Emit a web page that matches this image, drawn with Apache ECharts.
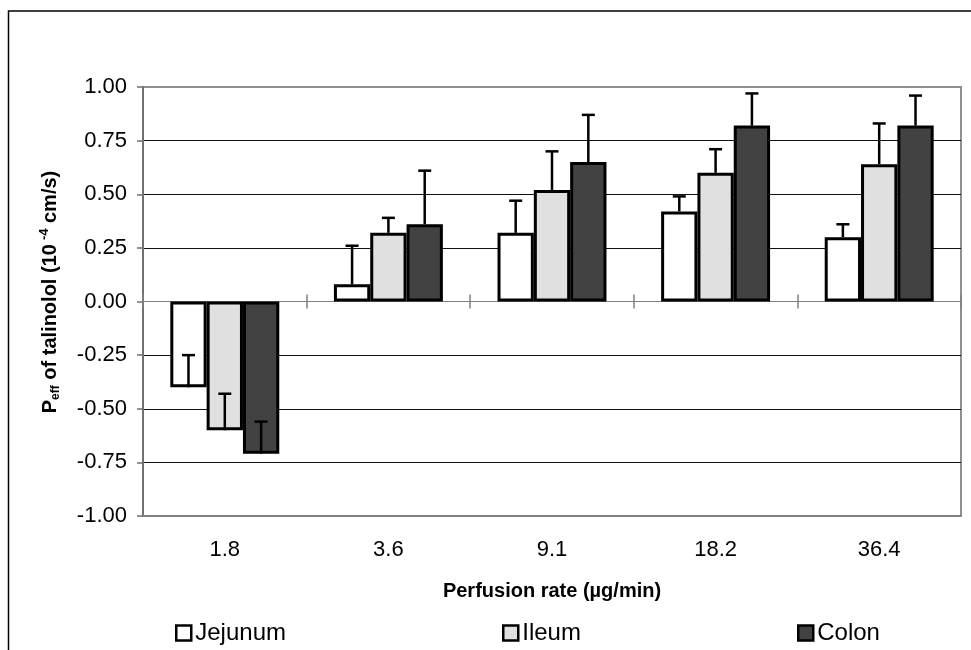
<!DOCTYPE html>
<html>
<head>
<meta charset="utf-8">
<title>Talinolol permeability</title>
<script src="https://cdn.jsdelivr.net/npm/echarts@6/dist/echarts.min.js"></script>
<style>
  html, body { margin: 0; padding: 0; background: #fff; }
  #chart { width: 971px; height: 650px; }
</style>
</head>
<body>
<div id="chart"></div>
<script>
// Perfusion rates (µg/min)
const categories = ['1.8', '3.6', '9.1', '18.2', '36.4'];

// Mean Peff (10^-4 cm/s) per intestinal segment
const jejunum = [-0.40, 0.08, 0.32, 0.42, 0.30];
const ileum   = [-0.60, 0.32, 0.52, 0.60, 0.64];
const colon   = [-0.71, 0.36, 0.65, 0.82, 0.82];

// Standard deviations (drawn upward from the mean)
const jejunumErr = [0.15, 0.18, 0.15, 0.07, 0.06];
const ileumErr   = [0.17, 0.07, 0.18, 0.11, 0.19];
const colonErr   = [0.15, 0.25, 0.22, 0.15, 0.14];

// y axis ticks
const yTicks = [-1.00, -0.75, -0.50, -0.25, 0.00, 0.25, 0.50, 0.75, 1.00];

const FONT = "'Liberation Sans', Arial, sans-serif";
const GAP = 0.334;

function errData(vals, errs) {
  return vals.map((v, i) => [i, v, v + errs[i]]);
}

function errRender(slot) {
  return function (params, api) {
    const x = api.value(0);
    const p0 = api.coord([x, api.value(1)]);
    const p1 = api.coord([x, api.value(2)]);
    const band = api.size([1, 0])[0];
    const barW = band * (1 - GAP) / 3;
    const cx = p0[0] + (slot - 1) * barW;
    const half = 6.5;
    return {
      type: 'group',
      children: [
        { type: 'line', shape: { x1: cx, y1: p0[1], x2: cx, y2: p1[1] },
          style: { stroke: '#000', lineWidth: 2.5 } },
        { type: 'line', shape: { x1: cx - half, y1: p1[1], x2: cx + half, y2: p1[1] },
          style: { stroke: '#000', lineWidth: 2.5 } }
      ]
    };
  };
}

const gridColors = yTicks.map(v => (v === -1 || v === 0 || v === 1) ? 'rgba(0,0,0,0)' : '#111');

const chart = echarts.init(document.getElementById('chart'), null, { renderer: 'canvas' });

const barStyle = (fill) => ({ color: fill, borderColor: '#000', borderWidth: 3 });

const legendBase = {
  orient: 'horizontal',
  padding: 0,
  itemWidth: 15,
  itemHeight: 15,
  icon: 'rect',
  selectedMode: false,
  itemGap: 6,
  itemStyle: { borderColor: '#000', borderWidth: 2.5 },
  textStyle: { fontFamily: FONT, fontSize: 24, color: '#000', padding: [0, 0, 0, -1] },
  top: 621
};

chart.setOption({
  animation: false,
  backgroundColor: '#fff',
  textStyle: { fontFamily: FONT },
  grid: { left: 143, right: 10, top: 87, bottom: 134, containLabel: false, outerBoundsMode: 'none' },
  legend: [
    Object.assign({}, legendBase, { data: ['Jejunum'], left: 175 }),
    Object.assign({}, legendBase, { data: ['Ileum'], left: 502 }),
    Object.assign({}, legendBase, { data: ['Colon'], left: 797 })
  ],
  xAxis: [
    {
      type: 'category',
      data: categories,
      position: 'bottom',
      axisLine: { onZero: false, lineStyle: { color: '#808080', width: 2 } },
      axisTick: { show: false },
      axisLabel: { fontFamily: FONT, fontSize: 22, color: '#000', margin: 23 },
      splitLine: { show: false },
      name: 'Perfusion rate (µg/min)',
      nameLocation: 'middle',
      nameGap: 65,
      nameTextStyle: { fontFamily: FONT, fontSize: 20, fontWeight: 'bold', color: '#000' }
    },
    {
      type: 'category',
      data: categories,
      position: 'bottom',
      axisLine: { onZero: true, onZeroAxisIndex: 0, lineStyle: { color: '#808080', width: 1 } },
      axisTick: { show: true, inside: true, length: 7, lineStyle: { color: '#808080', width: 1.5 } },
      axisLabel: { show: false },
      splitLine: { show: false }
    },
    {
      type: 'category',
      data: categories,
      position: 'bottom',
      axisLine: { onZero: true, onZeroAxisIndex: 0, lineStyle: { color: '#808080', width: 1 } },
      axisTick: { show: true, inside: false, length: 7, lineStyle: { color: '#808080', width: 1.5 } },
      axisLabel: { show: false },
      splitLine: { show: false }
    }
  ],
  yAxis: [
    {
      type: 'value',
      min: yTicks[0],
      max: yTicks[yTicks.length - 1],
      interval: 0.25,
      axisLine: { show: true, lineStyle: { color: '#707070', width: 2 } },
      axisTick: { show: true, inside: false, length: 6, lineStyle: { color: '#707070', width: 1.5 } },
      axisLabel: { fontFamily: FONT, fontSize: 22, color: '#000', margin: 16,
                   formatter: v => v.toFixed(2) },
      splitLine: { show: true, lineStyle: { color: gridColors, width: 1 } }
    }
  ],
  graphic: [
    {
      type: 'rect',
      shape: { x: 8.5, y: 11, width: 990, height: 700 },
      style: { fill: 'none', stroke: '#000', lineWidth: 1.5 },
      silent: true
    },
    {
      type: 'polyline',
      shape: { points: [[143, 87], [961, 87], [961, 516]] },
      style: { stroke: '#909090', lineWidth: 2, fill: 'none' },
      silent: true
    },
    {
      type: 'text',
      x: 50,
      y: 292,
      rotation: Math.PI / 2,
      style: {
        text: '{b|P}{sub|eff}{b| of talinolol (10}{sup|-4}{b| cm/s)}',
        align: 'center',
        verticalAlign: 'middle',
        fill: '#000',
        rich: {
          b: { fontFamily: FONT, fontSize: 20, fontWeight: 'bold', lineHeight: 24, fill: '#000' },
          sub: { fontFamily: FONT, fontSize: 12, fontWeight: 'bold', lineHeight: 12, verticalAlign: 'bottom', fill: '#000' },
          sup: { fontFamily: FONT, fontSize: 13, fontWeight: 'bold', lineHeight: 13, verticalAlign: 'top', fill: '#000', padding: [0, 0, 0, 4] }
        }
      },
      silent: true
    }
  ],
  series: [
    { name: 'Jejunum', type: 'bar', data: jejunum, barGap: '0%', barCategoryGap: (GAP * 100) + '%',
      itemStyle: barStyle('#ffffff'), z: 2 },
    { name: 'Ileum', type: 'bar', data: ileum, barGap: '0%', barCategoryGap: (GAP * 100) + '%',
      itemStyle: barStyle('#e0e0e0'), z: 2 },
    { name: 'Colon', type: 'bar', data: colon, barGap: '0%', barCategoryGap: (GAP * 100) + '%',
      itemStyle: barStyle('#424242'), z: 2 },
    { type: 'custom', renderItem: errRender(0), data: errData(jejunum, jejunumErr),
      encode: { x: 0, y: [1, 2] }, z: 5 },
    { type: 'custom', renderItem: errRender(1), data: errData(ileum, ileumErr),
      encode: { x: 0, y: [1, 2] }, z: 5 },
    { type: 'custom', renderItem: errRender(2), data: errData(colon, colonErr),
      encode: { x: 0, y: [1, 2] }, z: 5 }
  ]
});
</script>
</body>
</html>
